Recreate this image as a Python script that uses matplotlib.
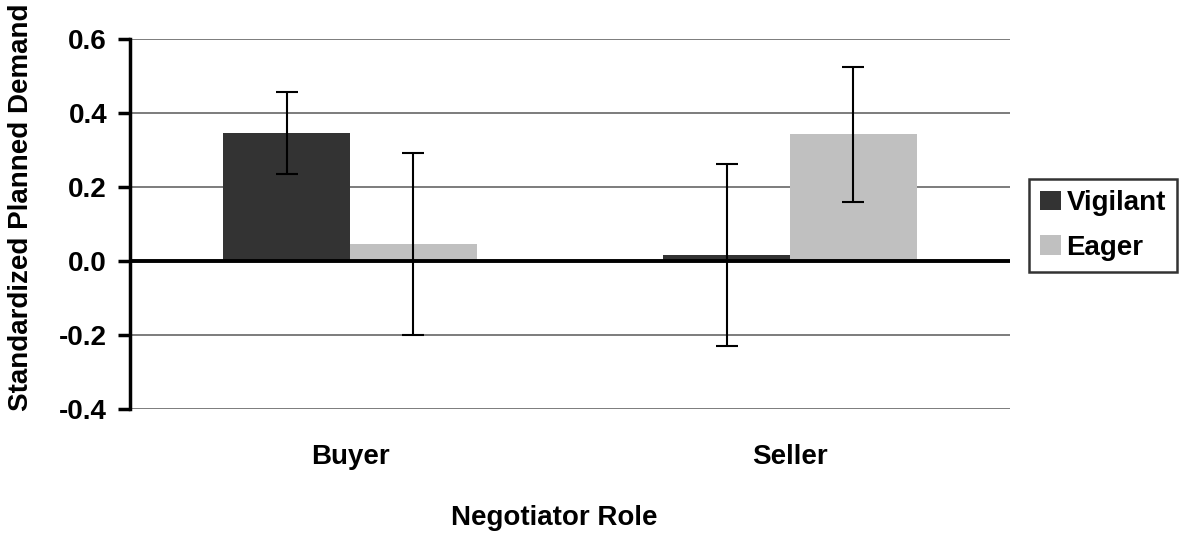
import numpy as np
import matplotlib.pyplot as plt
from matplotlib import font_manager

# regular-width Liberation Sans Bold, as an Arial stand-in
bold_files = [f for f in font_manager.findSystemFonts()
              if f.endswith('LiberationSans-Bold.ttf')]
if bold_files:
    fp = font_manager.FontProperties(fname=bold_files[0], size=20)
else:
    fp = font_manager.FontProperties(family='DejaVu Sans', weight='bold', size=20)

roles = ['Buyer', 'Seller']
vigilant = [0.345, 0.016]
eager = [0.045, 0.342]
vigilant_err = [0.111, 0.245]
eager_err = [0.246, 0.183]
yticks = [-0.4, -0.2, 0.0, 0.2, 0.4, 0.6]

W, H = 1180, 533
fig = plt.figure(figsize=(W / 100, H / 100), dpi=100)
ax = fig.add_axes([130 / W, 1 - 409 / H, 880 / W, 370 / H])

x = np.arange(len(roles))
w = 0.2886
err_kw = dict(ecolor='black', elinewidth=1.5, capsize=8, capthick=1.5)

for y in yticks:
    if y != 0:
        ax.axhline(y, color='#666666', lw=1.2, zorder=0)

ax.bar(x - w / 2, vigilant, w, color='#333333', yerr=vigilant_err,
       error_kw=err_kw, label='Vigilant', zorder=2)
ax.bar(x + w / 2, eager, w, color='#c0c0c0', yerr=eager_err,
       error_kw=err_kw, label='Eager', zorder=2)
ax.axhline(0, color='black', lw=2.8, zorder=3)

ax.set_xlim(-0.5, 1.5)
ax.set_ylim(-0.4, 0.6)
ax.set_yticks(yticks)
ax.set_yticklabels(['%.1f' % v for v in yticks], fontproperties=fp)
ax.set_xticks(x)
ax.set_xticklabels(roles, fontproperties=fp)
ax.tick_params(axis='x', length=0, pad=25)
ax.tick_params(axis='y', length=8.5, width=2.5, pad=8)

for s in ['top', 'right', 'bottom']:
    ax.spines[s].set_visible(False)
ax.spines['left'].set_linewidth(2.5)

fig.text(554 / W, 1 - 518 / H, 'Negotiator Role', fontproperties=fp,
         ha='center', va='center')
fig.text(21.5 / W, 1 - 207 / H, 'Standardized Planned Demand', fontproperties=fp,
         ha='center', va='center', rotation=90)

leg = ax.legend(loc='upper left', bbox_to_anchor=(1029 / W, 1 - 179 / H),
                bbox_transform=fig.transFigure, borderaxespad=0, prop=fp,
                frameon=True, fancybox=False, edgecolor='black',
                handlelength=0.75, handleheight=0.7, handletextpad=0.2,
                borderpad=0.4, labelspacing=0.67)
leg.get_frame().set_linewidth(1.8)

fig.savefig('out.png', dpi=100)
